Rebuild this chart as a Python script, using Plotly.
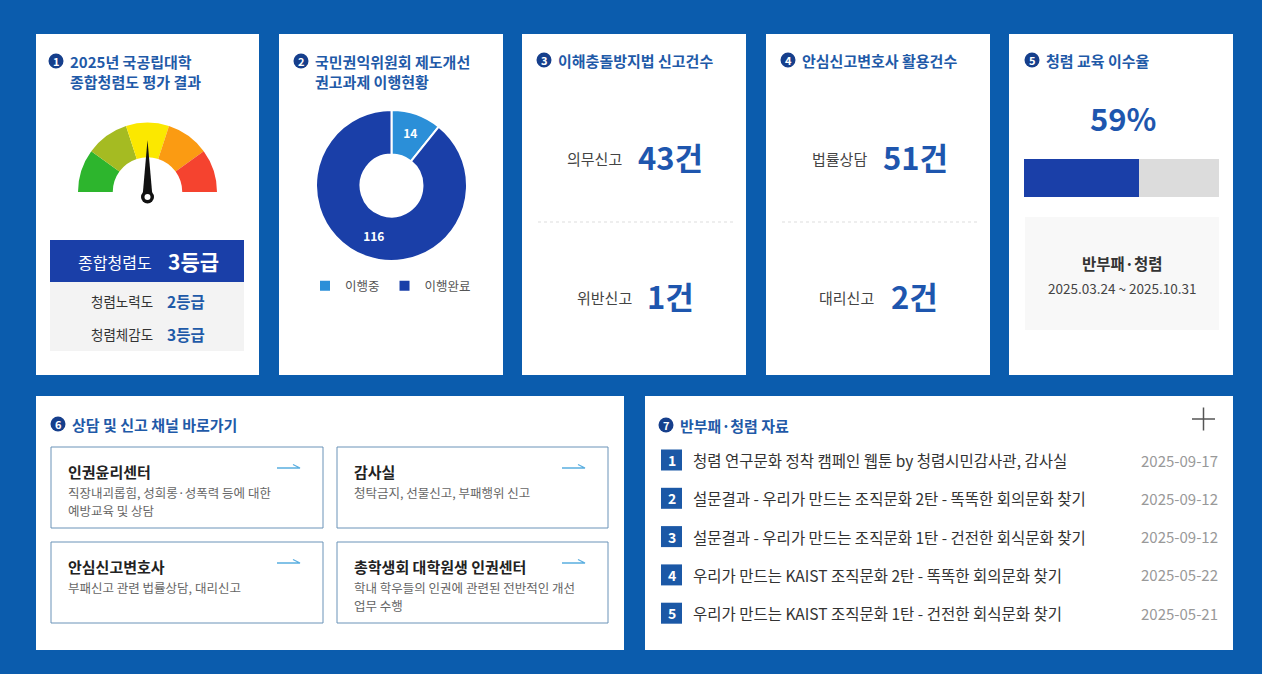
import math
import plotly.graph_objects as go

W, H = 1262, 674
FONT = "Noto Sans CJK KR, Noto Sans, sans-serif"

# ---------------- data ----------------
panel_titles = [
    ["2025년 국공립대학", "종합청렴도 평가 결과"],
    ["국민권익위원회 제도개선", "권고과제 이행현황"],
    ["이해충돌방지법 신고건수"],
    ["안심신고변호사 활용건수"],
    ["청렴 교육 이수율"],
    ["상담 및 신고 채널 바로가기"],
    ["반부패·청렴 자료"],
]

grade_levels = ["1등급", "2등급", "3등급", "4등급", "5등급"]
gauge_colors = ["#2db52d", "#a5bb22", "#fbe800", "#fb9b12", "#f5432f"]
overall_label = "종합청렴도"
overall_grade = 3
sub_grade_names = ["청렴노력도", "청렴체감도"]
sub_grade_values = [2, 3]

rec_labels = ["이행중", "이행완료"]
rec_values = [14, 116]
rec_colors = ["#2b8fd8", "#1a3fa8"]

conflict_labels = ["의무신고", "위반신고"]
conflict_values = [43, 1]

lawyer_labels = ["법률상담", "대리신고"]
lawyer_values = [51, 2]

edu_rate = 59
edu_total = 100
edu_name = "반부패·청렴"
edu_period = "2025.03.24 ~ 2025.10.31"

channel_names = ["인권윤리센터", "감사실", "안심신고변호사", "총학생회 대학원생 인권센터"]
channel_descs = [
    ["직장내괴롭힘, 성희롱·성폭력 등에 대한", "예방교육 및 상담"],
    ["청탁금지, 선물신고, 부패행위 신고"],
    ["부패신고 관련 법률상담, 대리신고"],
    ["학내 학우들의 인권에 관련된 전반적인 개선", "업무 수행"],
]

doc_titles = [
    "청렴 연구문화 정착 캠페인 웹툰 by 청렴시민감사관, 감사실",
    "설문결과 - 우리가 만드는 조직문화 2탄 - 똑똑한 회의문화 찾기",
    "설문결과 - 우리가 만드는 조직문화 1탄 - 건전한 회식문화 찾기",
    "우리가 만드는 KAIST 조직문화 2탄 - 똑똑한 회의문화 찾기",
    "우리가 만드는 KAIST 조직문화 1탄 - 건전한 회식문화 찾기",
]
doc_dates = ["2025-09-17", "2025-09-12", "2025-09-12", "2025-05-22", "2025-05-21"]

# ---------------- colours ----------------
BG = "#0b5cad"
TITLE = "#1f5aa8"
BADGE = "#163f8c"
NAVY = "#1a3fa8"
BIGNUM = "#1e56ae"
DARK = "#333333"
GRAY = "#555555"

shapes = []
annotations = []


def rect(x0, y0, x1, y1, fill, line=None, lw=0, layer="below"):
    shapes.append(dict(type="rect", xref="x", yref="y", x0=x0, y0=y0, x1=x1, y1=y1,
                       fillcolor=fill, line=dict(color=line or fill, width=lw), layer=layer))


def text(x, y, s, size, color, bold=False, xanchor="left"):
    annotations.append(dict(x=x, y=y, xref="x", yref="y", text=s, showarrow=False,
                            xanchor=xanchor, yanchor="middle", borderpad=0,
                            font=dict(size=size, color=color, family=FONT,
                                      weight=700 if bold else 400)))


def badge(cx, cy, n):
    shapes.append(dict(type="circle", xref="x", yref="y", x0=cx - 7.5, x1=cx + 7.5,
                       y0=cy - 7.5, y1=cy + 7.5, fillcolor=BADGE, line=dict(width=0), layer="above"))
    text(cx, cy, str(n), 11, "white", bold=True, xanchor="center")


def title(idx, cx, cy):
    badge(cx, cy, idx + 1)
    for k, line in enumerate(panel_titles[idx]):
        text(cx + 13, cy + k * 20, line, 15, TITLE, bold=True)


# ---------------- panels ----------------
top_panels = [(36, 259), (279, 503), (522, 746), (766, 990), (1009, 1233)]
for x0, x1 in top_panels:
    rect(x0, 34, x1, 375, "white")
rect(36, 396, 624, 650, "white")
rect(645, 396, 1233, 650, "white")

# panel 1 ------------------------------------------------
title(0, 56, 61)
cx, pivot_y = 147.5, 197
theta = math.radians(180 - (overall_grade - 0.5) * 180 / len(grade_levels))
L, hw = 57, 5
tipx, tipy = cx + L * math.cos(theta), pivot_y - L * math.sin(theta)
nx, ny = math.sin(theta), math.cos(theta)
shapes.append(dict(type="path", xref="x", yref="y",
                   path=f"M {cx - hw*nx:.2f} {pivot_y - hw*ny:.2f} L {tipx:.2f} {tipy:.2f} "
                        f"L {cx + hw*nx:.2f} {pivot_y + hw*ny:.2f} Z",
                   fillcolor="#111111", line=dict(width=0), layer="above"))
shapes.append(dict(type="circle", xref="x", yref="y", x0=cx - 6.5, x1=cx + 6.5,
                   y0=pivot_y - 6.5, y1=pivot_y + 6.5, fillcolor="#111111",
                   line=dict(width=0), layer="above"))
shapes.append(dict(type="circle", xref="x", yref="y", x0=cx - 3, x1=cx + 3,
                   y0=pivot_y - 3, y1=pivot_y + 3, fillcolor="white",
                   line=dict(width=0), layer="above"))

rect(50, 240, 244, 282, NAVY)
text(153, 262, overall_label, 16, "white", xanchor="right")
text(167, 261, f"{overall_grade}등급", 21, "white", bold=True)
rect(50, 282, 244, 351, "#f3f3f3")
for i, (nm, g) in enumerate(zip(sub_grade_names, sub_grade_values)):
    yy = 301 + i * 33
    text(154, yy, nm, 13.5, DARK, xanchor="right")
    text(166, yy, f"{g}등급", 15.5, TITLE, bold=True)

# panel 2 ------------------------------------------------
title(1, 301, 61)

# panel 3 / 4 --------------------------------------------
title(2, 544, 60)
title(3, 788, 60)
for (lab, vals, lx, vx) in [(conflict_labels, conflict_values, [623, 633], [637, 646]),
                            (lawyer_labels, lawyer_values, [868, 875], [882, 890])]:
    for i in range(2):
        yy = 158 + i * 139
        text(lx[i], yy, lab[i], 15, "#444444", xanchor="right")
        text(vx[i], yy - 2, f"{vals[i]}건", 31, BIGNUM, bold=True)
for x0, x1 in [(538, 733), (782, 977)]:
    shapes.append(dict(type="line", xref="x", yref="y", x0=x0, x1=x1, y0=222, y1=222,
                       line=dict(color="#dddddd", width=1, dash="dot"), layer="below"))

# panel 5 ------------------------------------------------
title(4, 1032, 60)
text(1123, 117, f"{edu_rate}%", 31, BIGNUM, bold=True, xanchor="center")
rect(1025, 217, 1219, 330, "#f8f8f8")
text(1122, 263, edu_name, 15.5, DARK, bold=True, xanchor="center")
text(1122, 288, edu_period, 13.5, "#444444", xanchor="center")

# panel 6 ------------------------------------------------
title(5, 58, 424)
boxes = [(51, 447, 323, 528), (337, 447, 608, 528), (51, 542, 323, 623), (337, 542, 608, 623)]
for (x0, y0, x1, y1), nm, desc in zip(boxes, channel_names, channel_descs):
    rect(x0, y0, x1, y1, "white", line="#6b93b8", lw=1, layer="above")
    text(x0 + 16, y0 + 24, nm, 15, "#222222", bold=True)
    for k, d in enumerate(desc):
        text(x0 + 16, y0 + 45 + k * 18, d, 12.5, "#666666")
    ax = x1 - 46
    shapes.append(dict(type="path", xref="x", yref="y",
                       path=f"M {ax} {y0+21} L {ax+23} {y0+21} L {ax+16} {y0+17.5}",
                       line=dict(color="#5aaee0", width=1.3), layer="above"))

# panel 7 ------------------------------------------------
title(6, 666, 425)
shapes.append(dict(type="line", xref="x", yref="y", x0=1192, x1=1215, y0=419, y1=419,
                   line=dict(color="#555555", width=1.5), layer="above"))
shapes.append(dict(type="line", xref="x", yref="y", x0=1203.5, x1=1203.5, y0=407.5, y1=430.5,
                   line=dict(color="#555555", width=1.5), layer="above"))
for i, (t, d) in enumerate(zip(doc_titles, doc_dates)):
    yy = 460 + i * 38.3
    rect(661, yy - 10.5, 682, yy + 10.5, "#1b58a6", layer="above")
    text(671.5, yy, str(i + 1), 14, "white", bold=True, xanchor="center")
    text(692, yy, t, 15.5, DARK)
    text(1219, yy, d, 15, "#999999", xanchor="right")

# ---------------- traces ----------------
fig = go.Figure()

# gauge (half donut)
fig.add_trace(go.Pie(
    values=[1] * len(grade_levels) + [len(grade_levels)],
    labels=grade_levels + ["blank"],
    marker=dict(colors=gauge_colors + ["rgba(0,0,0,0)"], line=dict(width=0)),
    hole=0.5, sort=False, direction="clockwise", rotation=-90,
    textinfo="none", hoverinfo="skip", showlegend=False,
    domain=dict(x=[78 / W, 217 / W], y=[1 - 261.5 / H, 1 - 122.5 / H]),
))

# recommendation donut
fig.add_trace(go.Pie(
    values=rec_values, labels=rec_labels,
    marker=dict(colors=rec_colors, line=dict(color="white", width=2)),
    hole=0.41, sort=False, direction="clockwise", rotation=0,
    textinfo="value", textposition="inside", insidetextorientation="horizontal",
    textfont=dict(color="white", size=12, family=FONT, weight=700),
    hoverinfo="label+value", showlegend=True,
    domain=dict(x=[316 / W, 467 / W], y=[1 - 261 / H, 1 - 110 / H]),
))

# progress bar
fig.add_trace(go.Bar(y=["이수율"], x=[edu_total], orientation="h", marker=dict(color="#dcdcdc", line=dict(width=0)),
                     xaxis="x2", yaxis="y2", hoverinfo="skip", showlegend=False))
fig.add_trace(go.Bar(y=["이수율"], x=[edu_rate], orientation="h", marker=dict(color=NAVY, line=dict(width=0)),
                     xaxis="x2", yaxis="y2", hoverinfo="skip", showlegend=False))

fig.update_layout(
    width=W, height=H,
    margin=dict(l=0, r=0, t=0, b=0),
    paper_bgcolor=BG, plot_bgcolor="rgba(0,0,0,0)",
    barmode="overlay", bargap=0,
    xaxis=dict(range=[0, W], domain=[0, 1], visible=False, fixedrange=True, anchor="y"),
    yaxis=dict(range=[H, 0], domain=[0, 1], visible=False, fixedrange=True, anchor="x"),
    xaxis2=dict(range=[0, edu_total], domain=[1024 / W, 1219 / W], visible=False, fixedrange=True, anchor="y2"),
    yaxis2=dict(range=[-0.5, 0.5], domain=[1 - 197 / H, 1 - 159 / H], visible=False, fixedrange=True, anchor="x2"),
    legend=dict(orientation="h", x=305 / W, y=1 - 286 / H, xanchor="left", yanchor="middle",
                font=dict(size=12.5, color=GRAY, family=FONT), bgcolor="rgba(0,0,0,0)",
                itemclick=False, itemdoubleclick=False),
    shapes=shapes, annotations=annotations,
    font=dict(family=FONT),
)

fig.write_html("out.html", config={"displayModeBar": False},
               post_script="document.body.style.margin='0';document.body.style.overflow='hidden';")
